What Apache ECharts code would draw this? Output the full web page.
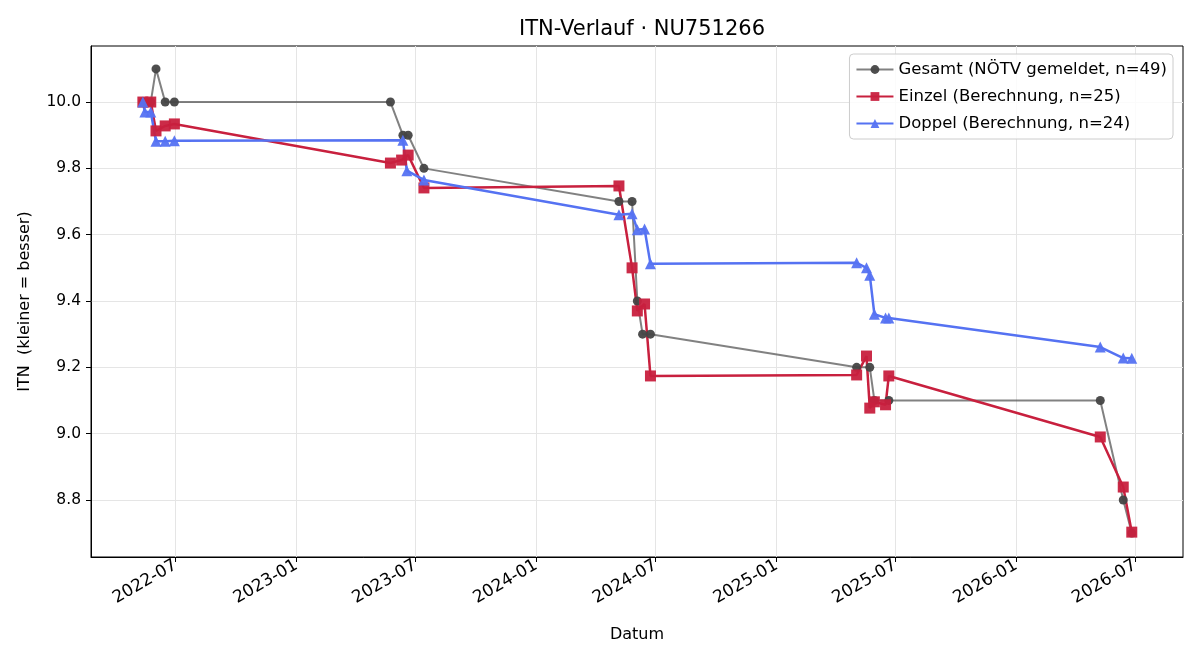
<!DOCTYPE html>
<html>
<head>
<meta charset="utf-8">
<script src="https://cdn.jsdelivr.net/npm/echarts@6/dist/echarts.min.js"></script>
<style>
  html, body { margin: 0; padding: 0; background: #fff; }
  #chart { width: 1200px; height: 660px; }
</style>
</head>
<body>
<div id="chart"></div>
<script>
// ITN-Verlauf - Werte

var gesamtDates = ['2022-05-12','2022-05-24','2022-06-01','2022-06-15','2022-06-29',
    '2023-05-24','2023-06-12','2023-06-20','2023-07-14',
    '2024-05-06','2024-05-26','2024-06-03','2024-06-11','2024-06-23',
    '2025-05-03','2025-05-23','2025-05-30','2025-06-21',
    '2026-05-09','2026-06-13','2026-06-26'];
var gesamtValues = [10.0, 10.0, 10.1, 10.0, 10.0,
    10.0, 9.9, 9.9, 9.8,
    9.7, 9.7, 9.4, 9.3, 9.3,
    9.2, 9.2, 9.1, 9.1,
    9.1, 8.8, 8.7];

var einzelDates = ['2022-05-12','2022-05-24','2022-06-01','2022-06-15','2022-06-29',
    '2023-05-24','2023-06-10','2023-06-20','2023-07-14',
    '2024-05-06','2024-05-26','2024-06-03','2024-06-14','2024-06-23',
    '2025-05-03','2025-05-18','2025-05-23','2025-05-30','2025-06-16','2025-06-21',
    '2026-05-09','2026-06-13','2026-06-26'];
var einzelValues = [10.0, 10.0, 9.913, 9.928, 9.934,
    9.816, 9.825, 9.840, 9.741,
    9.747, 9.500, 9.370, 9.391, 9.174,
    9.177, 9.234, 9.077, 9.096, 9.087, 9.174,
    8.990, 8.839, 8.703];

var doppelDates = ['2022-05-12','2022-05-15','2022-05-24','2022-06-01','2022-06-15','2022-06-29',
    '2023-06-12','2023-06-18','2023-07-14',
    '2024-05-06','2024-05-26','2024-06-03','2024-06-14','2024-06-23',
    '2025-05-03','2025-05-18','2025-05-23','2025-05-30','2025-06-16','2025-06-21',
    '2026-05-09','2026-06-13','2026-06-26'];
var doppelValues = [10.0, 9.97, 9.97, 9.882, 9.882, 9.883,
    9.885, 9.793, 9.765,
    9.660, 9.663, 9.615, 9.617, 9.512,
    9.515, 9.500, 9.478, 9.360, 9.349, 9.349,
    9.261, 9.228, 9.227];

var xTicks = ['2022-07-01','2023-01-01','2023-07-01','2024-01-01','2024-07-01',
    '2025-01-01','2025-07-01','2026-01-01','2026-07-01'];
var yTicks = [8.8, 9.0, 9.2, 9.4, 9.6, 9.8, 10.0];

function ts(d) { return new Date(d + 'T00:00:00Z').getTime(); }
function pairs(dates, vals) {
    return dates.map(function (d, i) { return [ts(d), vals[i]]; });
}
function ym(v) {
    var d = new Date(v);
    var m = d.getUTCMonth() + 1;
    return d.getUTCFullYear() + '-' + (m < 10 ? '0' + m : m);
}

var font = 'DejaVu Sans';
var myChart = echarts.init(document.getElementById('chart'));

var option = {
    animation: false,
    backgroundColor: '#fff',
    textStyle: { fontFamily: font },
    title: {
        text: 'ITN-Verlauf · NU751266',
        left: 637,
        top: 14,
        textAlign: 'center',
        textStyle: { fontFamily: font, fontSize: 21, fontWeight: 'normal', color: '#000' }
    },
    legend: {
        orient: 'vertical',
        right: 27,
        top: 54,
        backgroundColor: 'rgba(255,255,255,0.85)',
        borderColor: '#ccc',
        borderWidth: 1,
        borderRadius: 4,
        padding: [7, 6, 7, 6],
        itemGap: 10,
        itemWidth: 37,
        itemHeight: 11,
        textStyle: { fontFamily: font, fontSize: 16.5, color: '#000' },
        data: ['Gesamt (NÖTV gemeldet, n=49)', 'Einzel (Berechnung, n=25)', 'Doppel (Berechnung, n=24)']
    },
    grid: {
        left: 91, right: 17, top: 46, bottom: 103,
        show: true, borderColor: '#000', borderWidth: 1
    },
    xAxis: {
        type: 'value',
        min: ts('2022-02-22'),
        max: ts('2026-09-12'),
        name: 'Datum',
        nameLocation: 'middle',
        nameGap: 70,
        nameTextStyle: { fontFamily: font, fontSize: 16, color: '#000' },
        axisLine: { show: true, onZero: false, lineStyle: { color: '#000' } },
        axisTick: { show: true, length: 5, lineStyle: { color: '#000' }, customValues: xTicks.map(ts) },
        axisLabel: {
            customValues: xTicks.map(ts),
            rotate: 30,
            margin: 7,
            fontFamily: font, fontSize: 17, color: '#000',
            formatter: ym
        },
        splitLine: { show: true, lineStyle: { color: '#e5e5e5' } }
    },
    yAxis: {
        type: 'value',
        min: 8.628,
        max: 10.169,
        name: 'ITN  (kleiner = besser)',
        nameLocation: 'middle',
        nameGap: 58,
        nameTextStyle: { fontFamily: font, fontSize: 16, color: '#000' },
        axisLine: { show: true, onZero: false, lineStyle: { color: '#000' } },
        axisTick: { show: true, length: 5, lineStyle: { color: '#000' }, customValues: yTicks },
        axisLabel: {
            customValues: yTicks,
            margin: 10,
            fontFamily: font, fontSize: 15.5, color: '#000',
            formatter: function (v) { return v.toFixed(1); }
        },
        splitLine: { show: true, lineStyle: { color: '#e5e5e5' } }
    },
    series: [
        {
            name: 'Gesamt (NÖTV gemeldet, n=49)',
            type: 'line',
            data: pairs(gesamtDates, gesamtValues),
            symbol: 'circle',
            symbolSize: 9,
            lineStyle: { color: 'rgba(80,80,80,0.72)', width: 2 },
            itemStyle: { color: '#444', opacity: 0.95 }
        },
        {
            name: 'Einzel (Berechnung, n=25)',
            type: 'line',
            data: pairs(einzelDates, einzelValues),
            symbol: 'rect',
            symbolSize: 11,
            lineStyle: { color: '#c8203e', width: 2.5 },
            itemStyle: { color: '#c8203e', opacity: 0.95 }
        },
        {
            name: 'Doppel (Berechnung, n=24)',
            type: 'line',
            data: pairs(doppelDates, doppelValues),
            symbol: 'triangle',
            symbolSize: 11,
            lineStyle: { color: '#5572f2', width: 2.5 },
            itemStyle: { color: '#5572f2', opacity: 0.95 }
        }
    ]
};

myChart.setOption(option);
</script>
</body>
</html>
